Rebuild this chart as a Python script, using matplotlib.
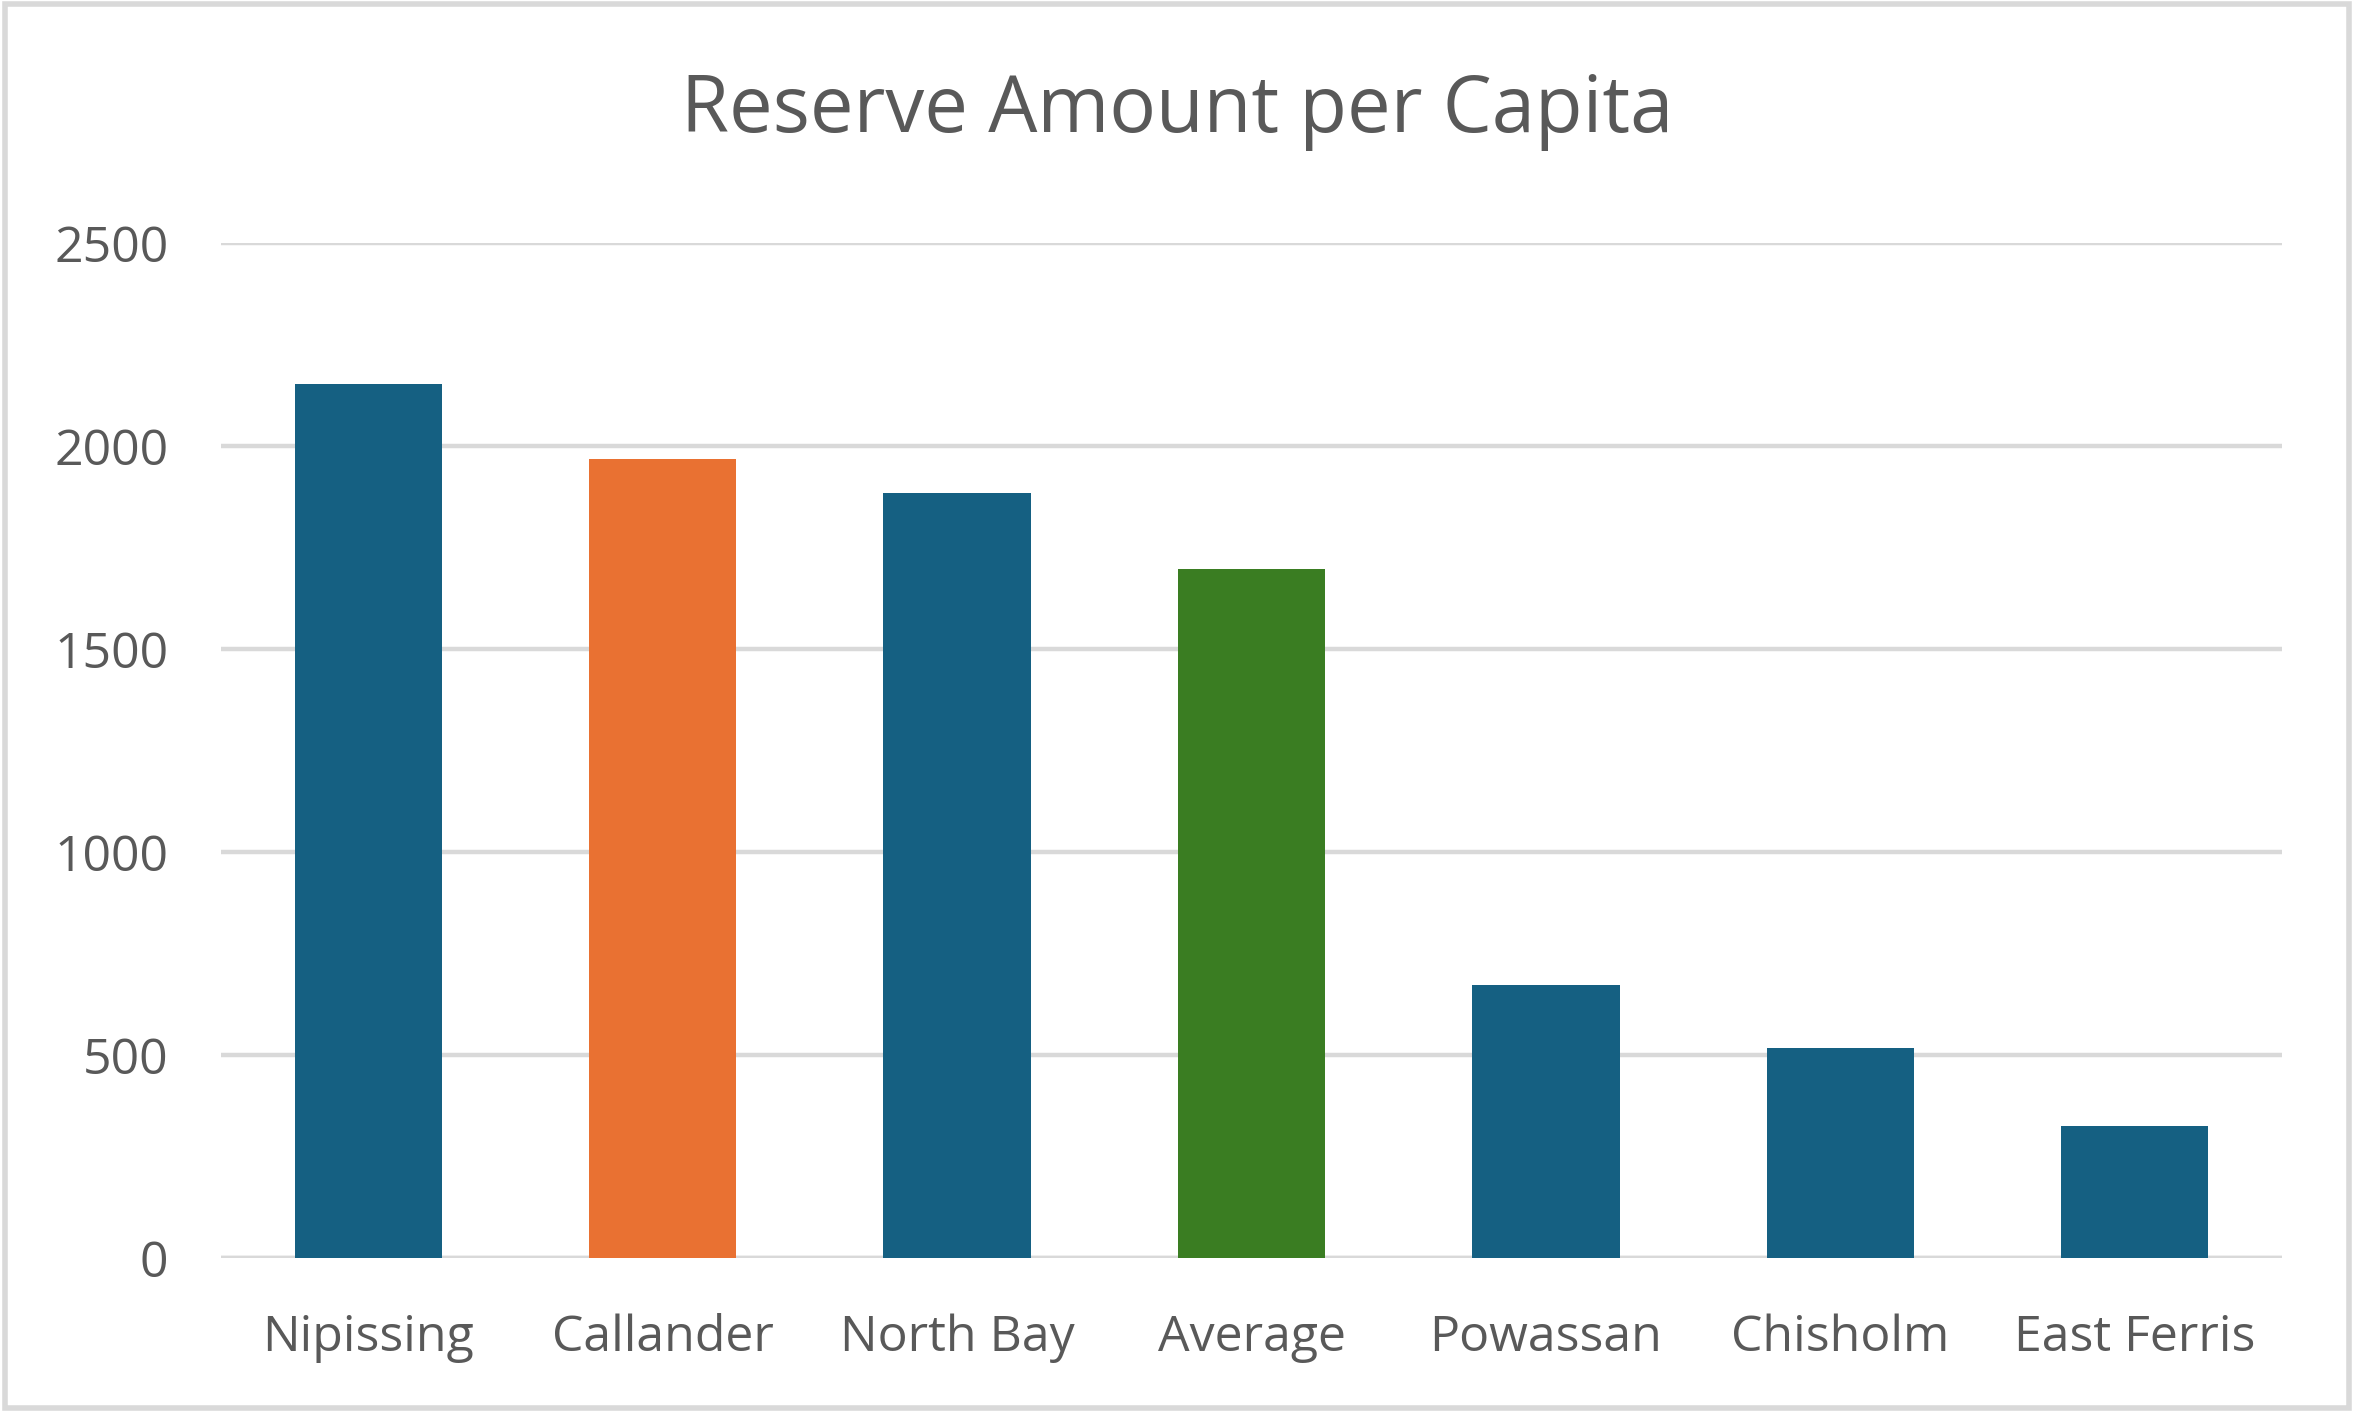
import matplotlib
matplotlib.use('Agg')
import matplotlib.pyplot as plt
from matplotlib.patches import Rectangle

plt.rcParams['font.family'] = ['Open Sans', 'DejaVu Sans']

towns = ['Nipissing', 'Callander', 'North Bay', 'Average', 'Powassan', 'Chisholm', 'East Ferris']
reserve = [2152, 1968, 1885, 1697, 673, 518, 325]
bar_colors = ['#156082', '#E97132', '#156082', '#3A7D22', '#156082', '#156082', '#156082']
yticks = [0, 500, 1000, 1500, 2000, 2500]

fig = plt.figure(figsize=(11.77, 7.06), dpi=200)
ax = fig.add_axes([0.0939, 0.109, 0.8755, 0.719])

x = range(len(towns))
ax.bar(x, reserve, width=0.5, color=bar_colors, zorder=3)

ax.set_ylim(0, 2500)
ax.set_xlim(-0.5, len(towns) - 0.5)
ax.set_yticks(yticks)
ax.set_xticks(list(x))
ax.set_xticklabels(towns)
ax.grid(axis='y', color='#D9D9D9', linewidth=1.6, zorder=0)
ax.set_axisbelow(True)
for s in ax.spines.values():
    s.set_visible(False)
ax.tick_params(axis='both', length=0, labelsize=18, labelcolor='#595959')
ax.tick_params(axis='x', pad=20)
ax.tick_params(axis='y', pad=19)
ax.axhline(0, color='#D9D9D9', linewidth=1.6, zorder=2)

fig.text(0.5, 0.921, 'Reserve Amount per Capita', ha='center', va='center',
         fontsize=28, color='#595959')

fig.patches.append(Rectangle((0.002, 0.003), 0.996, 0.994, transform=fig.transFigure,
                             fill=False, edgecolor='#D9D9D9', linewidth=2))

fig.savefig('out.png', dpi=200)
